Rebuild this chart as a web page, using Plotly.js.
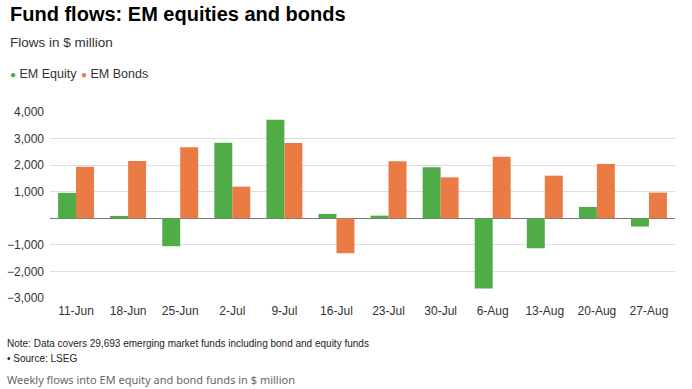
<!DOCTYPE html>
<html>
<head>
<meta charset="utf-8">
<script src="https://cdn.plot.ly/plotly-3.0.1.min.js"></script>
<style>html,body{margin:0;padding:0;background:#fff;}#chart{width:692px;height:389px;}</style>
</head>
<body>
<div id="chart"></div>
<script>
const weeks = ["11-Jun","18-Jun","25-Jun","2-Jul","9-Jul","16-Jul","23-Jul","30-Jul","6-Aug","13-Aug","20-Aug","27-Aug"];
const emEquity = [955, 90, -1050, 2846, 3711, 165, 100, 1917, -2643, -1128, 429, -312];
const emBonds = [1943, 2157, 2670, 1192, 2835, -1316, 2143, 1541, 2320, 1605, 2045, 966];
const yTicks = [-3000, -2000, -1000, 0, 1000, 2000, 3000, 4000];
const yTickText = ["\u22123,000", "\u22122,000", "\u22121,000", "", "1,000", "2,000", "3,000", "4,000"];

const GREEN = "#4fac47", ORANGE = "#ea7b45";
const F = "Liberation Sans, Arial, Helvetica, sans-serif";

const traces = [
  {type: "bar", name: "EM Equity", x: weeks, y: emEquity, marker: {color: GREEN}, hoverinfo: "x+y"},
  {type: "bar", name: "EM Bonds", x: weeks, y: emBonds, marker: {color: ORANGE}, hoverinfo: "x+y"}
];

const layout = {
  width: 692, height: 389,
  margin: {l: 50, r: 17, t: 112, b: 91},
  paper_bgcolor: "#fff", plot_bgcolor: "#fff",
  showlegend: false,
  barmode: "group", bargap: 0.31, bargroupgap: 0,
  font: {family: F, size: 12, color: "#222"},
  title: {text: "<b>Fund flows: EM equities and bonds</b>", x: 0.0145, xanchor: "left", y: 0.982, yanchor: "top", font: {family: F, size: 20, color: "#000"}},
  xaxis: {type: "category", tickfont: {family: F, size: 12, color: "#333"}, showgrid: false, zeroline: false, showline: false, ticks: "", ticklabelstandoff: 4},
  yaxis: {range: [-3000, 4000], tickvals: yTicks, ticktext: yTickText, tickfont: {family: F, size: 12, color: "#333"}, showgrid: true, gridcolor: "#dedede", gridwidth: 1, zeroline: true, zerolinecolor: "#777", zerolinewidth: 1.2, ticks: "", ticklabelstandoff: 5, showline: false},
  annotations: [
    {xref: "paper", yref: "paper", x: -0.068, xanchor: "left", y: 1.376, yanchor: "middle", text: "Flows in $ million", showarrow: false, font: {family: F, size: 13.5, color: "#333"}},
    {xref: "paper", yref: "paper", x: -0.068, xanchor: "left", y: 1.204, yanchor: "middle", text: "<span style='color:" + GREEN + ";font-size:10px'>\u25CF</span> " + traces[0].name, showarrow: false, font: {family: F, size: 12.5, color: "#333"}},
    {xref: "paper", yref: "paper", x: 0.047, xanchor: "left", y: 1.204, yanchor: "middle", text: "<span style='color:" + ORANGE + ";font-size:10px'>\u25CF</span> " + traces[1].name, showarrow: false, font: {family: F, size: 12.5, color: "#333"}},
    {xref: "paper", yref: "paper", x: -0.072, xanchor: "left", y: -0.245, yanchor: "middle", text: "Note: Data covers 29,693 emerging market funds including bond and equity funds", showarrow: false, font: {family: F, size: 10, color: "#222"}},
    {xref: "paper", yref: "paper", x: -0.072, xanchor: "left", y: -0.327, yanchor: "middle", text: "\u2022 Source: LSEG", showarrow: false, font: {family: F, size: 10, color: "#222"}},
    {xref: "paper", yref: "paper", x: -0.072, xanchor: "left", y: -0.44, yanchor: "middle", text: "Weekly flows into EM equity and bond funds in $ million", showarrow: false, font: {family: "Noto Sans, Open Sans, sans-serif", size: 11, color: "#666"}}
  ]
};

Plotly.newPlot("chart", traces, layout, {displayModeBar: false, staticPlot: true});
</script>
</body>
</html>
